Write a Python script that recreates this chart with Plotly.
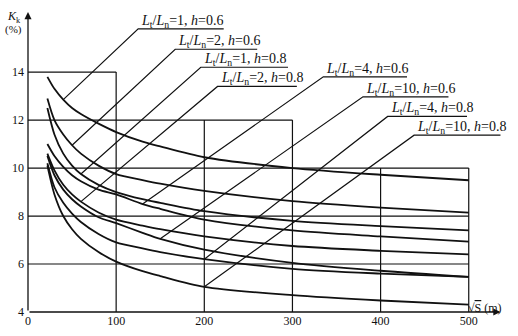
import plotly.graph_objects as go

# sqrt(S) sample positions (m)
sqrt_s = [22, 30, 40, 50, 60, 80, 100, 130, 150, 200, 300, 400, 500]

# K_k (%) for each Lt/Ln, h combination
kk_1_06 = [13.8, 13.3, 12.85, 12.5, 12.25, 11.85, 11.5, 11.1, 10.9, 10.45, 10.0, 9.72, 9.49]
kk_2_06 = [12.9, 12.0, 11.4, 10.95, 10.6, 10.1, 9.75, 9.5, 9.35, 9.05, 8.62, 8.35, 8.14]
kk_1_08 = [12.5, 11.4, 10.6, 10.1, 9.75, 9.3, 9.0, 8.7, 8.55, 8.2, 7.8, 7.58, 7.4]
kk_4_06 = [11.0, 10.5, 10.05, 9.7, 9.45, 9.1, 8.9, 8.5, 8.3, 7.85, 7.4, 7.15, 6.93]
kk_2_08 = [10.6, 9.9, 9.3, 8.9, 8.6, 8.15, 7.85, 7.6, 7.45, 7.15, 6.75, 6.55, 6.4]
kk_10_06 = [10.5, 9.7, 9.1, 8.7, 8.4, 7.95, 7.7, 7.3, 7.05, 6.6, 6.05, 5.72, 5.46]
kk_4_08 = [10.2, 9.2, 8.55, 8.1, 7.75, 7.25, 6.9, 6.65, 6.5, 6.2, 5.8, 5.6, 5.46]
kk_10_08 = [10.1, 8.9, 8.0, 7.45, 7.05, 6.5, 6.1, 5.7, 5.5, 5.05, 4.7, 4.48, 4.31]

# curve labels, the sqrt(S) where each leader meets its curve,
# and where each label sits
label_texts = [
    "<i>L</i><sub>t</sub>/<i>L</i><sub>n</sub>=1, <i>h</i>=0.6",
    "<i>L</i><sub>t</sub>/<i>L</i><sub>n</sub>=2, <i>h</i>=0.6",
    "<i>L</i><sub>t</sub>/<i>L</i><sub>n</sub>=1, <i>h</i>=0.8",
    "<i>L</i><sub>t</sub>/<i>L</i><sub>n</sub>=2, <i>h</i>=0.8",
    "<i>L</i><sub>t</sub>/<i>L</i><sub>n</sub>=4, <i>h</i>=0.6",
    "<i>L</i><sub>t</sub>/<i>L</i><sub>n</sub>=10, <i>h</i>=0.6",
    "<i>L</i><sub>t</sub>/<i>L</i><sub>n</sub>=4, <i>h</i>=0.8",
    "<i>L</i><sub>t</sub>/<i>L</i><sub>n</sub>=10, <i>h</i>=0.8",
]
label_series = [kk_1_06, kk_2_06, kk_1_08, kk_2_08, kk_4_06, kk_10_06, kk_4_08, kk_10_08]
label_anchor_s = [40, 50, 60, 60, 130, 150, 200, 200]
label_x = [125, 167, 196, 215, 335, 380, 408, 438]
label_y = [15.8, 14.95, 14.2, 13.4, 13.8, 12.97, 12.15, 11.37]
label_len = [97, 93, 99, 90, 95, 97, 90, 98]

# stepped reference grid: horizontal (K, s_from, s_to), vertical (s, K_from, K_to)
h_grid = [(14, 0, 100), (12, 0, 300), (10, 0, 500), (8, 0, 500), (6, 0, 500)]
v_grid = [(100, 4, 14), (200, 4, 12), (300, 4, 12), (400, 4, 10), (500, 4, 10)]

x_ticks = [0, 100, 200, 300, 400, 500]
y_ticks = [4, 6, 8, 10, 12, 14]

FONT = "Liberation Serif"
INK = "#111111"

fig = go.Figure()

all_series = [kk_1_06, kk_2_06, kk_1_08, kk_4_06, kk_2_08, kk_10_06, kk_4_08, kk_10_08]
for ys in all_series:
    fig.add_trace(go.Scatter(
        x=sqrt_s, y=ys, mode="lines",
        line=dict(color=INK, width=1.8, shape="spline", smoothing=0.8),
        hoverinfo="skip", showlegend=False,
    ))

# leader lines with the short underline beneath each label
for txt, ys, s_a, lx, ly, ll in zip(label_texts, label_series, label_anchor_s,
                                    label_x, label_y, label_len):
    k_a = ys[sqrt_s.index(s_a)]
    fig.add_trace(go.Scatter(
        x=[s_a, lx, lx + ll], y=[k_a, ly, ly], mode="lines",
        line=dict(color=INK, width=1.2), hoverinfo="skip",
        showlegend=False, cliponaxis=False,
    ))
    fig.add_annotation(
        x=lx, y=ly, xref="x", yref="y", text=txt, showarrow=False,
        xanchor="left", yanchor="bottom", yshift=-3, xshift=1,
        font=dict(family=FONT, size=14, color=INK),
    )

shapes = []
for k, s0, s1 in h_grid:
    shapes.append(dict(type="line", xref="x", yref="y", x0=s0, x1=s1, y0=k, y1=k,
                       line=dict(color=INK, width=1.2), layer="below"))
for s, k0, k1 in v_grid:
    shapes.append(dict(type="line", xref="x", yref="y", x0=s, x1=s, y0=k0, y1=k1,
                       line=dict(color=INK, width=1.2), layer="below"))

# axes with arrowheads
fig.add_annotation(x=536, y=4, ax=0, ay=4, xref="x", yref="y", axref="x", ayref="y",
                   text="", showarrow=True, arrowhead=2, arrowsize=1.1,
                   arrowwidth=1.3, arrowcolor=INK)
fig.add_annotation(x=0, y=16.5, ax=0, ay=4, xref="x", yref="y", axref="x", ayref="y",
                   text="", showarrow=True, arrowhead=2, arrowsize=1.1,
                   arrowwidth=1.3, arrowcolor=INK)

# axis titles
fig.add_annotation(x=-0.03, y=0.972, xref="paper", yref="paper", showarrow=False,
                   xanchor="center", yanchor="middle",
                   text="<i>K</i><sub>k</sub>", font=dict(family=FONT, size=12, color=INK))
fig.add_annotation(x=-0.03, y=0.93, xref="paper", yref="paper", showarrow=False,
                   xanchor="center", yanchor="middle",
                   text="(%)", font=dict(family=FONT, size=11, color=INK))
fig.add_annotation(x=0.96, y=0.012, xref="paper", yref="paper", showarrow=False,
                   xanchor="center", yanchor="middle",
                   text="\u221a<span style='text-decoration:overline'>S</span> (m)",
                   font=dict(family=FONT, size=12, color=INK))

fig.update_layout(
    width=518, height=336, autosize=False,
    margin=dict(l=28, r=14, t=8, b=20),
    paper_bgcolor="white", plot_bgcolor="white",
    shapes=shapes,
    font=dict(family=FONT, size=12, color=INK),
    xaxis=dict(range=[0, 540], tickvals=x_ticks, showgrid=False, zeroline=False,
               showline=False, ticks="", tickfont=dict(family=FONT, size=12, color=INK)),
    yaxis=dict(range=[4, 16.67], tickvals=y_ticks, showgrid=False, zeroline=False,
               showline=False, ticks="", ticklabelstandoff=3,
               tickfont=dict(family=FONT, size=12, color=INK)),
)

fig.write_html("out.html")
